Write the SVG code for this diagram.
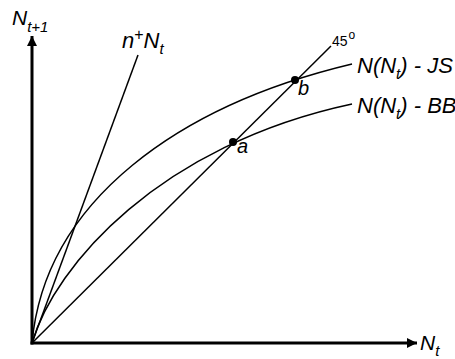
<svg xmlns="http://www.w3.org/2000/svg" width="455" height="359" viewBox="0 0 455 359">
<defs>
<marker id="ah" viewBox="0 0 10 10" refX="10" refY="5" markerWidth="3.4" markerHeight="3.4" markerUnits="strokeWidth" orient="auto">
<path d="M0,0 L10,5 L0,10 Z" fill="#000"/>
</marker>
</defs>
<style>
.ax{stroke:#000;stroke-width:3;fill:none}
.ln{stroke:#000;stroke-width:1.5;fill:none}
.t{font-family:"Liberation Sans",Arial,sans-serif;font-style:italic;fill:#000}
.n{font-family:"Liberation Sans",Arial,sans-serif;fill:#000}
</style>
<rect width="455" height="359" fill="#fff"/>
<g id="connectors">
<path class="ln" d="M32,343 L138,55"/>
<path class="ln" d="M32,343 L331,46"/>
<path class="ln" d="M32,343 C45,200 180,105 352,64"/>
<path class="ln" d="M32,343 C55,265 160,145 352,104"/>
</g>
<g id="axes">
<path class="ax" d="M32,344.5 L32,36" marker-end="url(#ah)"/>
<path class="ax" d="M30.5,343 L417,343" marker-end="url(#ah)"/>
</g>
<g id="label-y"><text class="t" x="12" y="25" font-size="21">N<tspan font-size="15" dy="7">t+1</tspan></text></g>
<g id="label-x"><text class="t" x="420" y="350" font-size="21">N<tspan font-size="15" dy="6">t</tspan></text></g>
<g id="label-n"><text class="t" x="122" y="48" font-size="22">n<tspan font-size="16" dy="-8" font-style="normal">+</tspan><tspan dy="8">N</tspan><tspan font-size="15" dy="6">t</tspan></text></g>
<g id="label-45"><text class="n" x="332" y="46" font-size="14">45<tspan font-size="12" dy="-7" dx="1">o</tspan></text></g>
<g id="label-JS"><text class="t" x="357" y="73" font-size="22">N(N<tspan font-size="15" dy="6">t</tspan><tspan dy="-6">) - JS</tspan></text></g>
<g id="label-BB"><text class="t" x="357" y="113" font-size="22">N(N<tspan font-size="15" dy="6">t</tspan><tspan dy="-6">) - BB</tspan></text></g>
<g id="point-a"><circle cx="233" cy="142" r="4" fill="#000"/><text class="t" x="237" y="153" font-size="20">a</text></g>
<g id="point-b"><circle cx="295" cy="80" r="4" fill="#000"/><text class="t" x="298" y="95" font-size="20">b</text></g>
</svg>
